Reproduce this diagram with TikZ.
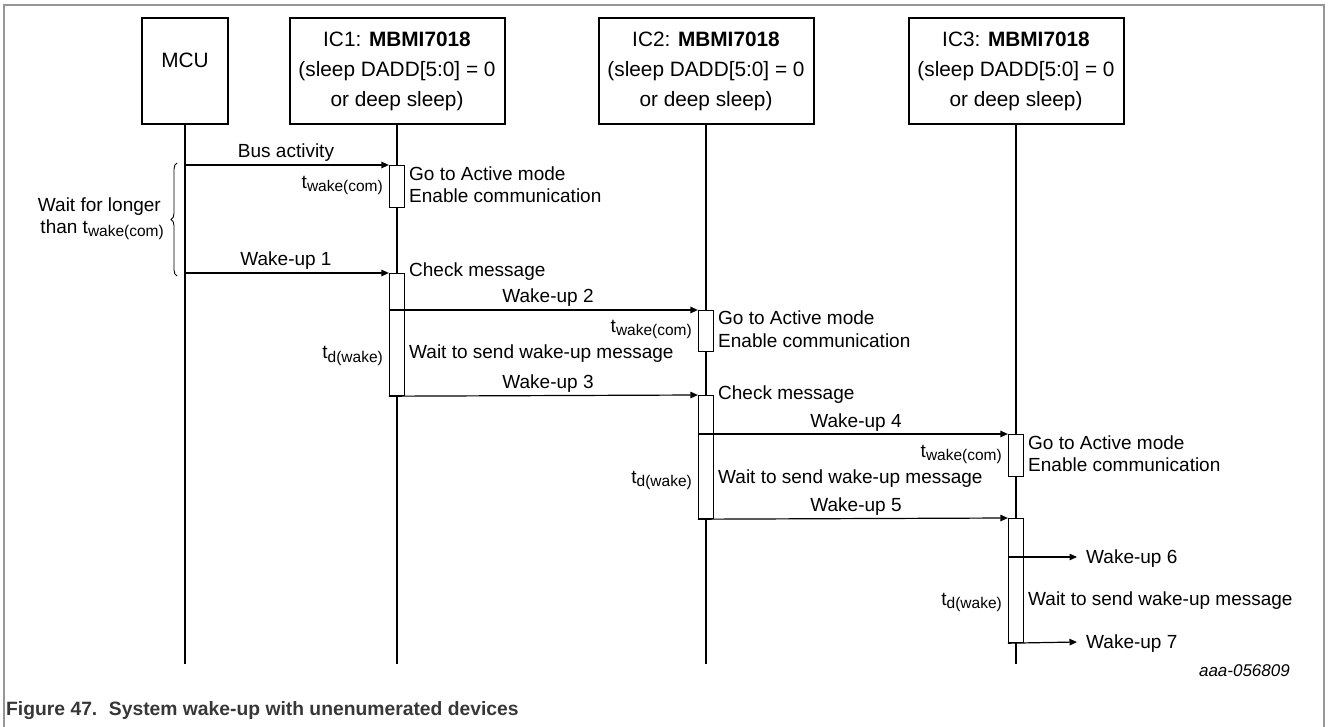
\documentclass[tikz,border=0pt]{standalone}
\usepackage{fontspec}
\setmainfont{Liberation Sans}
\usetikzlibrary{arrows.meta,decorations.pathreplacing}
\definecolor{framegray}{RGB}{150,150,150}
\definecolor{capgray}{RGB}{55,55,55}
\newcommand{\tlab}[1]{t\raisebox{-3pt}{\fontsize{15.5}{16}\selectfont #1}}
\begin{document}
\begin{tikzpicture}[x=1pt,y=-1pt,
  hdr/.style={draw, line width=2pt, minimum height=106pt, align=center, inner sep=0pt,
    font=\fontsize{20.8}{30}\selectfont},
  life/.style={line width=1.2pt},
  actbox/.style={draw, fill=white, line width=1.2pt, minimum width=15pt, inner sep=0pt, anchor=north},
  msg/.style={line width=1.2pt, -{Triangle[length=7.5pt,width=6.5pt]}},
  lbl/.style={font=\fontsize{20.8}{24}\selectfont, inner sep=0pt},
  tl/.style={font=\fontsize{19}{21}\selectfont, inner sep=0pt, anchor=base east},
  note/.style={font=\fontsize{19}{21}\selectfont, inner sep=0pt, anchor=base west},
  mlab/.style={font=\fontsize{19}{21}\selectfont, inner sep=0pt, anchor=base}
]
\useasboundingbox (0,0) rectangle (1328,727);
% frame
\draw[framegray, line width=1.5pt] (4,727) -- (4,5) -- (1324,5) -- (1324,727);

% headers
\node[hdr, minimum width=86pt] (mcu) at (185,71) {};
\node[lbl] (mcut) at (185,60) {MCU};
\node[hdr, minimum width=215pt] (ic1) at (397,71) {IC1: \textbf{MBMI7018}\\(sleep DADD[5:0] = 0\\or deep sleep)};
\node[hdr, minimum width=215pt] (ic2) at (706,71) {IC2: \textbf{MBMI7018}\\(sleep DADD[5:0] = 0\\or deep sleep)};
\node[hdr, minimum width=215pt] (ic3) at (1016,71) {IC3: \textbf{MBMI7018}\\(sleep DADD[5:0] = 0\\or deep sleep)};

% lifelines
\coordinate (bottom) at (0,664);
\draw[life] (mcu.south) -- (mcu.south |- bottom);
\draw[life] (ic1.south) -- (ic1.south |- bottom);
\draw[life] (ic2.south) -- (ic2.south |- bottom);
\draw[life] (ic3.south) -- (ic3.south |- bottom);

% activation boxes
\node[actbox, minimum height=42pt] (a1) at (397,165) {};
\node[actbox, minimum height=122pt] (a2) at (397,273) {};
\node[actbox, minimum height=41pt] (b1) at (706,310) {};
\node[actbox, minimum height=123pt] (b2) at (706,395) {};
\node[actbox, minimum height=42pt] (c1) at (1016,434) {};
\node[actbox, minimum height=124pt] (c2) at (1016,518) {};

% messages
\draw[msg] (mcu.south |- a1.north west) -- (a1.north west);
\draw[msg] (mcu.south |- a2.north west) -- (a2.north west);
\draw[msg] (a2.west |- b1.north west) -- (b1.north west);
\draw[msg] (a2.south west) -- (b2.north west);
\draw[msg] (b2.west |- c1.north west) -- (c1.north west);
\draw[msg] (b2.south west) -- (c2.north west);
\coordinate (w6) at (1077,557);
\coordinate (w7) at (1077,642);
\draw[msg] (c2.west |- w6) -- (w6);
\draw[msg] (c2.south west) -- (w7);

% message labels
\node[mlab] (l0) at (286,158) {Bus activity};
\node[mlab] (l1) at (286,266) {Wake-up 1};
\node[mlab] (l2) at (548,303) {Wake-up 2};
\node[mlab] (l3) at (548,388) {Wake-up 3};
\node[mlab] (l4) at (856,427) {Wake-up 4};
\node[mlab] (l5) at (856,511) {Wake-up 5};
\node[note] (l6) at (1086,563.5) {Wake-up 6};
\node[note] (l7) at (1086,648.5) {Wake-up 7};

% brace
\coordinate (br1) at (177,276);
\coordinate (br2) at (177,163);
\draw[decorate, decoration={brace, amplitude=6pt}, line width=0.9pt] (br1) -- (br2);
\node[tl] (wf1) at (161,212) {Wait for longer};
\node[tl] (wf2) at (164,234) {than \tlab{wake(com)}};

% IC1 notes
\node[tl] (t1) at (383,189) {\tlab{wake(com)}};
\node[note] (n1a) at (409,181) {Go to Active mode};
\node[note] (n1b) at (409,203) {Enable communication};
\node[note] (n1c) at (409,277) {Check message};
\node[tl] (t2) at (383,359) {\tlab{d(wake)}};
\node[note] (n1d) at (409,359) {Wait to send wake-up message};

% IC2 notes
\node[tl] (t3) at (692,333) {\tlab{wake(com)}};
\node[note] (n2a) at (718,325) {Go to Active mode};
\node[note] (n2b) at (718,347) {Enable communication};
\node[note] (n2c) at (718,399) {Check message};
\node[tl] (t4) at (692,483) {\tlab{d(wake)}};
\node[note] (n2d) at (718,483) {Wait to send wake-up message};

% IC3 notes
\node[tl] (t5) at (1002,457) {\tlab{wake(com)}};
\node[note] (n3a) at (1028,449) {Go to Active mode};
\node[note] (n3b) at (1028,471) {Enable communication};
\node[tl] (t6) at (1002,605) {\tlab{d(wake)}};
\node[note] (n3d) at (1028,605) {Wait to send wake-up message};

% id and caption
\node[font=\fontsize{17}{19}\selectfont\itshape, inner sep=0pt, anchor=base east] (id) at (1290,676) {aaa-056809};
\node[font=\fontsize{19.3}{22}\selectfont\bfseries, text=capgray, inner sep=0pt, anchor=base west] (cap) at (6,715) {Figure 47.\hspace{0.6em}System wake-up with unenumerated devices};
\end{tikzpicture}
\end{document}
